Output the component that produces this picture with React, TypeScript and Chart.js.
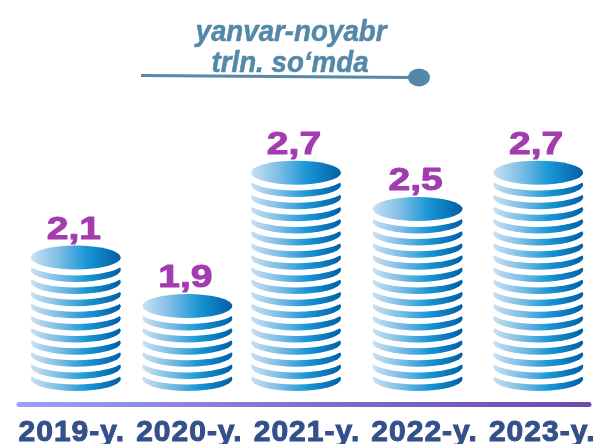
import React, { useEffect, useRef } from "react";
import { Chart, registerables } from "chart.js";

Chart.register(...registerables);

const years = ["2019-y.", "2020-y.", "2021-y.", "2022-y.", "2023-y."];
const valueLabels = ["2,1", "1,9", "2,7", "2,5", "2,7"];
const coinCounts = [11, 7, 18, 15, 18];
const titleLines = ["yanvar-noyabr", "trln. so‘mda"];

const FONT = '"Liberation Sans", Arial, sans-serif';
const stackShift = [4, -2, -11, -7, -4];

const coinPlugin = {
  id: "coins",
  beforeDraw(chart: any) {
    (chart.ctx as any).letterSpacing = "1px";
  },
  afterDatasetsDraw(chart: any) {
    const ctx = chart.ctx as CanvasRenderingContext2D;
    (ctx as any).letterSpacing = "0px";
    const yScale = chart.scales.y;
    const unit = Math.abs(yScale.getPixelForValue(1) - yScale.getPixelForValue(0));
    const rx = 45;
    const ry = 12;
    const meta = chart.getDatasetMeta(0);
    meta.data.forEach((el: any, i: number) => {
      const x = el.x + stackShift[i];
      const top = el.y;
      const base = el.base;
      const grad = ctx.createLinearGradient(x - rx, 0, x + rx, 0);
      grad.addColorStop(0, "#cbe0f3");
      grad.addColorStop(0.3, "#7fbfe6");
      grad.addColorStop(0.62, "#1a96d5");
      grad.addColorStop(1, "#005fa6");
      const n = coinCounts[i];
      for (let k = 0; k < n - 1; k++) {
        const c = base - ry - k * unit;
        ctx.fillStyle = grad;
        ctx.beginPath();
        ctx.ellipse(x, c, rx, ry, 0, 0, Math.PI * 2);
        ctx.fill();
        ctx.fillStyle = "#ffffff";
        ctx.beginPath();
        ctx.ellipse(x, c - 6.5, rx + 2, ry, 0, 0, Math.PI * 2);
        ctx.fill();
      }
      ctx.fillStyle = grad;
      ctx.beginPath();
      ctx.ellipse(x, top + ry, rx, ry, 0, 0, Math.PI * 2);
      ctx.fill();

      ctx.save();
      ctx.translate(x - 2, top - 7);
      ctx.scale(1.22, 1);
      ctx.fillStyle = "#a23cb0";
      ctx.strokeStyle = "#a23cb0";
      ctx.lineWidth = 1;
      ctx.lineJoin = "round";
      ctx.font = `bold 32px ${FONT}`;
      ctx.textAlign = "center";
      ctx.textBaseline = "alphabetic";
      ctx.fillText(valueLabels[i], 0, 0);
      ctx.strokeText(valueLabels[i], 0, 0);
      ctx.restore();
    });

    // baseline under the stacks
    const area = chart.chartArea;
    const lineY = area.bottom + 13.5;
    const lg = ctx.createLinearGradient(18, 0, 593, 0);
    lg.addColorStop(0, "#9c9ffb");
    lg.addColorStop(0.5, "#7f6fd0");
    lg.addColorStop(1, "#6d4aa8");
    ctx.strokeStyle = lg;
    ctx.lineWidth = 5;
    ctx.lineCap = "round";
    ctx.beginPath();
    ctx.moveTo(area.left + 6, lineY);
    ctx.lineTo(area.right - 12, lineY);
    ctx.stroke();

    // heading
    ctx.fillStyle = "#5488a8";
    ctx.strokeStyle = "#5488a8";
    ctx.lineWidth = 0.5;
    ctx.font = `italic bold 28px ${FONT}`;
    ctx.textAlign = "center";
    ctx.textBaseline = "alphabetic";
    [[291, 41], [290, 72]].forEach((p, i) => {
      ctx.save();
      ctx.translate(p[0], p[1]);
      ctx.scale(0.99, 1.05);
      ctx.fillText(titleLines[i], 0, 0);
      ctx.strokeText(titleLines[i], 0, 0);
      ctx.restore();
    });
    ctx.lineWidth = 3;
    ctx.lineCap = "butt";
    ctx.beginPath();
    ctx.moveTo(141, 75.5);
    ctx.lineTo(412, 77.5);
    ctx.stroke();
    ctx.beginPath();
    ctx.ellipse(419, 77.5, 11, 9, 0, 0, Math.PI * 2);
    ctx.fill();
  },
};

export default function App() {
  const ref = useRef<HTMLCanvasElement>(null);
  useEffect(() => {
    const chart = new Chart(ref.current!, {
      type: "bar",
      data: {
        labels: years,
        datasets: [
          {
            data: coinCounts,
            base: -1,
            backgroundColor: "transparent",
            borderWidth: 0,
            barThickness: 90,
          } as any,
        ],
      },
      options: {
        responsive: false,
        animation: false,
        events: [],
        layout: { padding: { left: 13, right: -2, top: 100, bottom: 0 } },
        plugins: { legend: { display: false }, tooltip: { enabled: false } },
        scales: {
          x: {
            grid: { display: false },
            border: { display: false },
            afterFit(s: any) {
              s.height = 53;
              s.paddingLeft = 0;
              s.paddingRight = 0;
            },
            ticks: {
              color: "#34508a",
              font: { family: FONT, size: 30, weight: "bold" },
              textStrokeColor: "#34508a",
              textStrokeWidth: 1,
              padding: 16,
              maxRotation: 0,
              autoSkip: false,
            },
          },
          y: { display: false, min: -1, max: 23 },
        },
      },
      plugins: [coinPlugin],
    } as any);
    return () => chart.destroy();
  }, []);
  return (
    <div style={{ position: "absolute", left: 0, top: 0, width: 601, height: 444, background: "#fff" }}>
      <canvas ref={ref} width={601} height={444} style={{ display: "block" }} />
    </div>
  );
}
